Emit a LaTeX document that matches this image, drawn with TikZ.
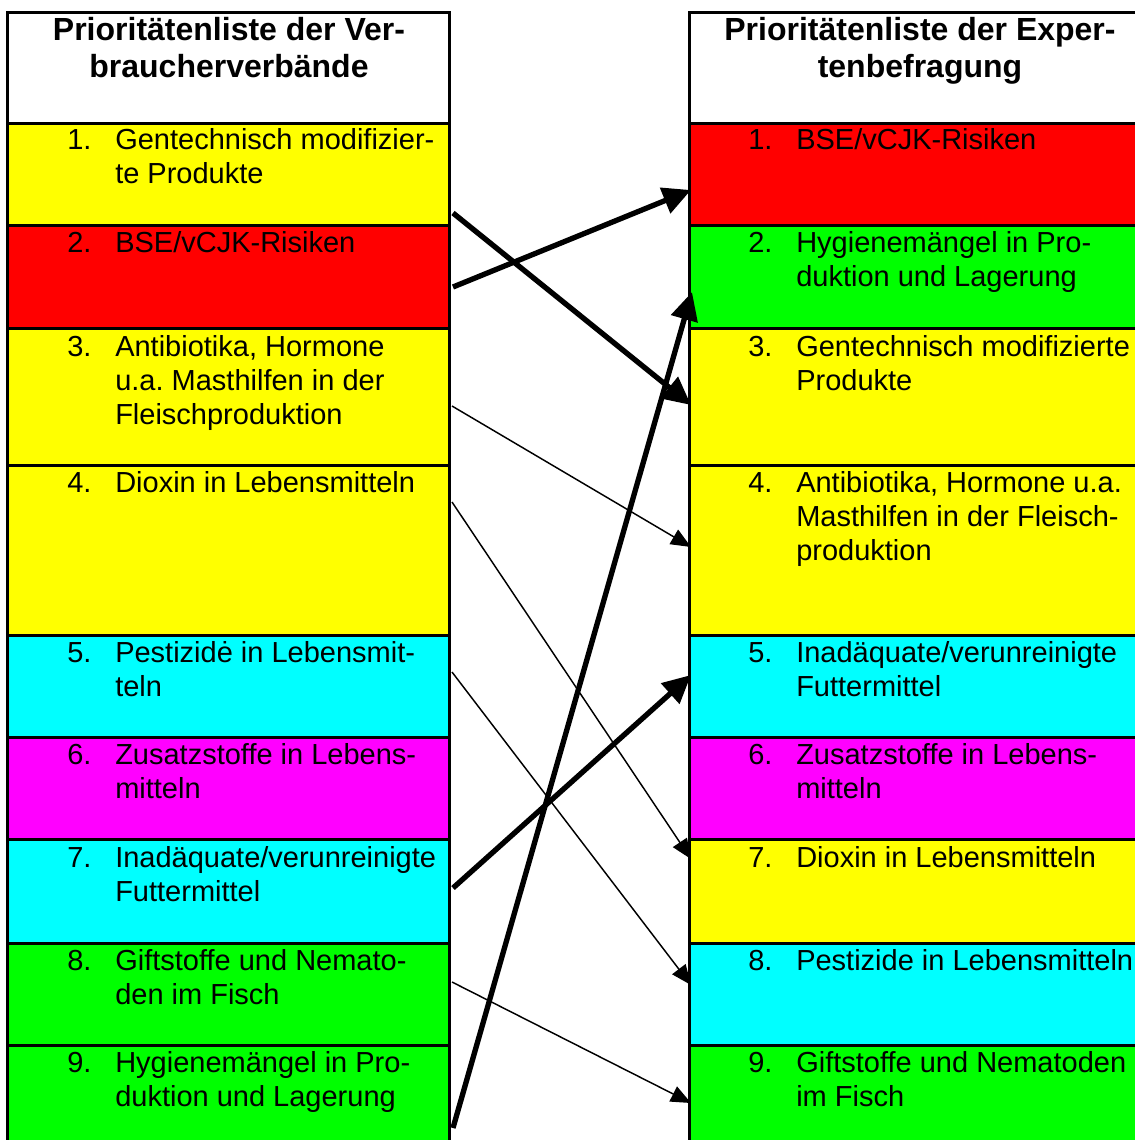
\documentclass[tikz,border=0pt]{standalone}
\usepackage{fontspec}
\setmainfont{Liberation Sans}
\usetikzlibrary{arrows.meta}
\frenchspacing
\definecolor{cyel}{RGB}{255,255,0}
\definecolor{cred}{RGB}{255,0,0}
\definecolor{cgrn}{RGB}{0,255,0}
\definecolor{ccya}{RGB}{0,255,255}
\definecolor{cmag}{RGB}{255,0,255}
\newcommand\rowtext[2]{\begin{tabular}[t]{@{}p{36pt}@{}l@{}}#1 & #2\end{tabular}}
\newcommand\headtext[1]{\begin{tabular}[t]{@{}c@{}}#1\end{tabular}}
\tikzset{
  cellline/.style={line width=2.25pt, draw=black},
  item/.style={anchor=base west, inner sep=0pt, font=\frenchspacing\fontsize{21.75pt}{25.5pt}\selectfont},
  head/.style={anchor=base, inner sep=0pt, font=\bfseries\fontsize{24pt}{28.1pt}\selectfont},
  thickarrow/.style={line width=4pt, -{Triangle[length=21pt,width=20pt]}},
  thinarrow/.style={line width=1.1pt, -{Triangle[length=15pt,width=12.5pt]}},
}
\begin{document}
\begin{tikzpicture}[x=0.75pt,y=-0.75pt]
\clip (0,0) rectangle (1135,1140);
\fill[white] (0,0) rectangle (1135,1140);
% left table cells
\draw[cellline, fill=white] (7,12) rectangle (449,123);
\draw[cellline, fill=cyel] (7,123) rectangle (449,225);
\draw[cellline, fill=cred] (7,225) rectangle (449,328);
\draw[cellline, fill=cyel] (7,328) rectangle (449,465);
\draw[cellline, fill=cyel] (7,465) rectangle (449,635);
\draw[cellline, fill=ccya] (7,635) rectangle (449,737);
\draw[cellline, fill=cmag] (7,737) rectangle (449,839);
\draw[cellline, fill=ccya] (7,839) rectangle (449,943);
\draw[cellline, fill=cgrn] (7,943) rectangle (449,1045);
\draw[cellline, fill=cgrn] (7,1045) rectangle (449,1170);
% right table cells
\draw[cellline, fill=white] (689,12) rectangle (1152,123);
\draw[cellline, fill=cred] (689,123) rectangle (1152,225);
\draw[cellline, fill=cgrn] (689,225) rectangle (1152,328);
\draw[cellline, fill=cyel] (689,328) rectangle (1152,465);
\draw[cellline, fill=cyel] (689,465) rectangle (1152,635);
\draw[cellline, fill=ccya] (689,635) rectangle (1152,737);
\draw[cellline, fill=cmag] (689,737) rectangle (1152,839);
\draw[cellline, fill=cyel] (689,839) rectangle (1152,943);
\draw[cellline, fill=ccya] (689,943) rectangle (1152,1045);
\draw[cellline, fill=cgrn] (689,1045) rectangle (1152,1170);
% headers
\node[head] (LH) at (229,40) {\headtext{Prioritätenliste der Ver-\\braucherverbände}};
\node[head] (RH) at (920,40) {\headtext{Prioritätenliste der Exper-\\tenbefragung}};
% left items
\node[item] (L1) at (67,149) {\rowtext{1.}{Gentechnisch modifizier-\\ & te Produkte}};
\node[item] (L2) at (67,252) {\rowtext{2.}{BSE/vCJK-Risiken}};
\node[item] (L3) at (67,356) {\rowtext{3.}{Antibiotika, Hormone\\ & u.a. Masthilfen in der\\ & Fleischproduktion}};
\node[item] (L4) at (67,492) {\rowtext{4.}{Dioxin in Lebensmitteln}};
\node[item] (L5) at (67,662) {\rowtext{5.}{Pestizidė in Lebensmit-\\ & teln}};
\node[item] (L6) at (67,764) {\rowtext{6.}{Zusatzstoffe in Lebens-\\ & mitteln}};
\node[item] (L7) at (67,867) {\rowtext{7.}{Inadäquate/verunreinigte\\ & Futtermittel}};
\node[item] (L8) at (67,970) {\rowtext{8.}{Giftstoffe und Nemato-\\ & den im Fisch}};
\node[item] (L9) at (67,1072) {\rowtext{9.}{Hygienemängel in Pro-\\ & duktion und Lagerung}};
% right items
\node[item] (R1) at (748,149) {\rowtext{1.}{BSE/vCJK-Risiken}};
\node[item] (R2) at (748,252) {\rowtext{2.}{Hygienemängel in Pro-\\ & duktion und Lagerung}};
\node[item] (R3) at (748,356) {\rowtext{3.}{Gentechnisch modifizierte\\ & Produkte}};
\node[item] (R4) at (748,492) {\rowtext{4.}{Antibiotika, Hormone u.a.\\ & Masthilfen in der Fleisch-\\ & produktion}};
\node[item] (R5) at (748,662) {\rowtext{5.}{Inadäquate/verunreinigte\\ & Futtermittel}};
\node[item] (R6) at (748,764) {\rowtext{6.}{Zusatzstoffe in Lebens-\\ & mitteln}};
\node[item] (R7) at (748,867) {\rowtext{7.}{Dioxin in Lebensmitteln}};
\node[item] (R8) at (748,970) {\rowtext{8.}{Pestizide in Lebensmitteln}};
\node[item] (R9) at (748,1072) {\rowtext{9.}{Giftstoffe und Nematoden\\ & im Fisch}};
% connector end points
\coordinate (s1) at (453,213);
\coordinate (s2) at (453,287);
\coordinate (s3) at (452,406);
\coordinate (s4) at (452,502);
\coordinate (s5) at (452,672);
\coordinate (s7) at (453,888);
\coordinate (s8) at (452,982);
\coordinate (s9) at (453,1128);
\coordinate (t1) at (691,190);
\coordinate (t2) at (692,292);
\coordinate (t3) at (691,405);
\coordinate (t4) at (691,547);
\coordinate (t5) at (691,675);
\coordinate (t7) at (691,859);
\coordinate (t8) at (691,985);
\coordinate (t9) at (691,1103);
% connectors
\draw[thickarrow] (s2) -- (t1);
\draw[thickarrow] (s1) -- (t3);
\draw[thickarrow] (s9) -- (t2);
\draw[thickarrow] (s7) -- (t5);
\draw[thinarrow] (s3) -- (t4);
\draw[thinarrow] (s4) -- (t7);
\draw[thinarrow] (s5) -- (t8);
\draw[thinarrow] (s8) -- (t9);
\end{tikzpicture}
\end{document}
